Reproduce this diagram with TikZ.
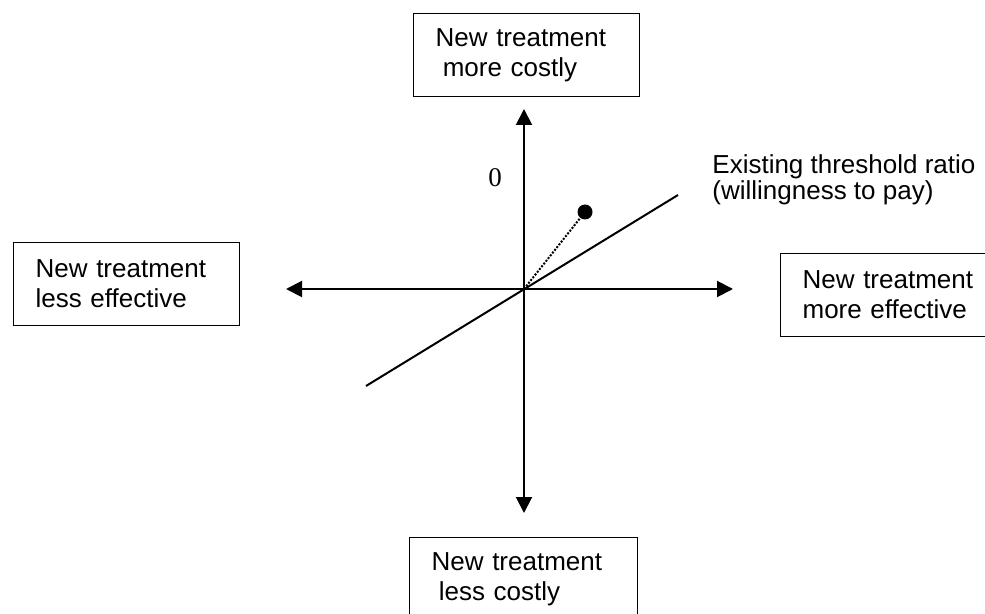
\documentclass[tikz,border=0pt]{standalone}
\usepackage{fontspec}
\setmainfont{Liberation Sans}
\newfontfamily\zerofont{Liberation Serif}
\usetikzlibrary{arrows.meta}

\begin{document}
\begin{tikzpicture}[x=0.5pt, y=-0.5pt, >={Triangle[length=8pt, width=8pt]},
    quadbox/.style={draw, line width=0.6pt, anchor=north west, align=left,
      font=\fontsize{13}{15}\selectfont, inner xsep=11pt, inner ysep=0pt,
      text width=91pt, minimum height=41.5pt},
    axis/.style={line width=1pt, <->}]
  \useasboundingbox (0,0) rectangle (985,614);
  \clip (0,0) rectangle (985,614);
  \node[quadbox] (costly) at (413,13) {New treatment\\\hspace*{3.6pt}more costly};
  \node[quadbox] (lesseff) at (13,242) {New treatment\\less effective};
  \node[quadbox] (moreeff) at (780,253) {New treatment\\more effective};
  \node[quadbox, text width=92pt] (cheap) at (409,537) {New treatment\\\hspace*{3.6pt}less costly};
  \coordinate (O) at (524,289);
  \coordinate (xl) at (286,289);
  \coordinate (xr) at (733,289);
  \coordinate (yt) at (524,109);
  \coordinate (yb) at (524,513);
  \coordinate (tl) at (366,386);
  \coordinate (tu) at (678,195);
  \draw[axis] (xl) -- (xr);
  \draw[axis] (yb) -- (yt);
  \draw[line width=1pt] (tl) -- (tu);
  \node[font=\zerofont\fontsize{13.5}{16}\selectfont] (zero) at (495,178) {0};
  \node[circle, fill, inner sep=0pt, minimum size=7.5pt] (icer) at (585,212) {};
  \draw[line width=1pt, dash pattern=on 1pt off 0.75pt] (O) -- (icer);
  \node[anchor=north west, inner sep=0pt, align=left,
    font=\fontsize{13}{11.5}\selectfont] (ratio) at (712,154)
    {Existing threshold ratio\\(willingness to pay)};
\end{tikzpicture}
\end{document}
